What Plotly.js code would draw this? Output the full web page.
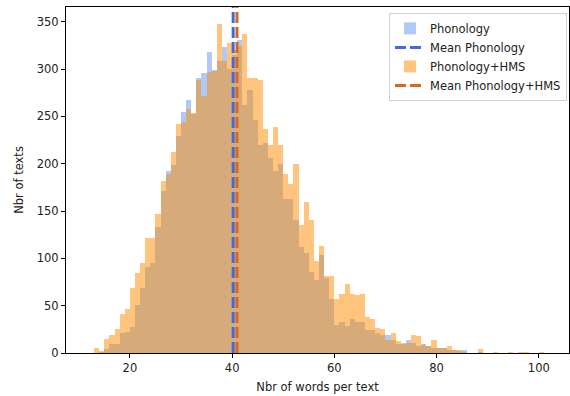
<!DOCTYPE html>
<html>
<head>
<meta charset="utf-8">
<script src="https://cdn.plot.ly/plotly-3.0.1.min.js"></script>
<style>html,body{margin:0;padding:0;background:#fff;}#chart{width:570px;height:396px;}</style>
</head>
<body>
<div id="chart"></div>
<script>
// bin left edges (words per text), bin width = 1
const binStarts = [13,14,15,16,17,18,19,20,21,22,23,24,25,26,27,28,29,30,31,32,33,34,35,36,37,38,39,40,41,42,43,44,45,46,47,48,49,50,51,52,53,54,55,56,57,58,59,60,61,62,63,64,65,66,67,68,69,70,71,72,73,74,75,76,77,78,79,80,81,82,83,84,85,86,87,88,89,90,91,92,93,94,95,96,97,98,99,100,101];
// counts, Phonology
const phonology = [0,1,4,9,10,21,22,27,51,69,91,95,133,171,192,199,229,255,267,253,291,296,318,299,308,323,300,315,331,262,278,246,220,222,206,192,200,163,163,140,112,106,86,77,104,79,57,30,33,29,36,33,33,24,24,21,19,19,14,9,9,14,11,7,10,7,5,5,5,3,3,2,3,0,0,1,0,0,0,0,0,0,0,0,0,0,0,0,0];
// counts, Phonology+HMS
const phonologyHMS = [5,2,15,19,25,41,47,69,85,95,122,121,147,182,189,212,242,244,258,254,288,272,297,298,348,308,328,320,324,337,291,290,288,237,220,239,220,189,179,200,135,159,140,97,113,81,81,57,62,73,62,61,62,38,36,26,25,14,21,13,11,11,19,18,8,7,14,5,5,7,3,3,1,0,0,4,0,0,1,0,0,1,0,1,1,0,0,1,0];
// means
const meanPhonology = 40.2;
const meanPhonologyHMS = 40.95;
const xTicks = [20,40,60,80,100];
const yTicks = [0,50,100,150,200,250,300,350];

const centers = binStarts.map(b => b + 0.5);
const yTop = 365.5;
const FS = 11.5;

const traces = [
  {type:'bar', name:'Phonology', x:centers, y:phonology, width:1,
   marker:{color:'#6495ED', line:{width:0}}, opacity:0.5},
  {type:'scatter', mode:'lines', name:'Mean Phonology', x:[meanPhonology, meanPhonology], y:[0, yTop],
   line:{color:'#4169E1', width:3, dash:'11px,4px'}},
  {type:'bar', name:'Phonology+HMS', x:centers, y:phonologyHMS, width:1,
   marker:{color:'#FF8C00', line:{width:0}}, opacity:0.5},
  {type:'scatter', mode:'lines', name:'Mean Phonology+HMS', x:[meanPhonologyHMS, meanPhonologyHMS], y:[0, yTop],
   line:{color:'#D2691E', width:3, dash:'11px,4px'}}
];

const axisCommon = {
  showline:true, linecolor:'#000', linewidth:1, mirror:true,
  ticks:'outside', ticklen:4, tickwidth:1, tickcolor:'#000',
  showgrid:false, zeroline:false,
  tickfont:{family:'DejaVu Sans', size:FS, color:'#222'}
};

const layout = {
  width:570, height:396,
  margin:{l:66, r:1, t:7, b:43},
  paper_bgcolor:'#fff', plot_bgcolor:'#fff',
  barmode:'overlay', bargap:0,
  font:{family:'DejaVu Sans', size:FS, color:'#222'},
  xaxis:Object.assign({}, axisCommon, {range:[7.5, 105.9], tickvals:xTicks,
    title:{text:'Nbr of words per text', font:{family:'DejaVu Sans', size:FS, color:'#222'}, standoff:9}}),
  yaxis:Object.assign({}, axisCommon, {range:[0, yTop], tickvals:yTicks,
    title:{text:'Nbr of texts', font:{family:'DejaVu Sans', size:FS, color:'#222'}, standoff:10}}),
  showlegend:true,
  legend:{x:0.996, y:0.983, xanchor:'right', yanchor:'top', bgcolor:'rgba(255,255,255,0.8)',
    bordercolor:'#d0d0d0', borderwidth:1, font:{family:'DejaVu Sans', size:FS, color:'#222'},
    traceorder:'normal', itemwidth:30}
};

Plotly.newPlot('chart', traces, layout, {displayModeBar:false, staticPlot:true});
</script>
</body>
</html>
